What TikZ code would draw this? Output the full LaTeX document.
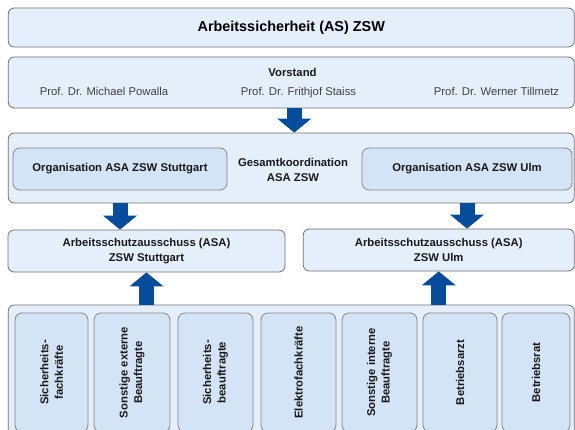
\documentclass[tikz,border=0pt]{standalone}
\usepackage{fontspec}
\setmainfont{Liberation Sans}
\usepackage{xcolor}
\usepackage{tikz}
\usetikzlibrary{arrows.meta, positioning}

\definecolor{boxfill}{RGB}{229,239,252}
\definecolor{innerfill}{RGB}{212,228,247}
\definecolor{boxline}{RGB}{112,112,112}
\definecolor{arrowblue}{RGB}{6,76,156}

\tikzset{
    outerbox/.style={draw=boxline, fill=boxfill, line width=0.8pt, rounded corners=6pt, inner sep=0pt},
    innerbox/.style={draw=boxline!85, fill=innerfill, line width=0.8pt, rounded corners=7pt, inner sep=0pt},
    bigarrow/.style={draw=arrowblue, line width=15pt, -{Triangle[width=34pt, length=14pt, line width=0pt]}},
    boldtext/.style={font=\fontsize{11.3}{14.5}\selectfont\bfseries, text=black!90, align=center},
    nametext/.style={font=\fontsize{11.3}{14}\selectfont, text=black!75, anchor=base}
}

\begin{document}
\begin{tikzpicture}[x=1pt, y=-1pt]
    \useasboundingbox (0,0) rectangle (575,430);
    \clip (0,0) rectangle (575,430);

    % Titel
    \node[outerbox, minimum width=566pt, minimum height=39pt, font=\fontsize{14.4}{17}\selectfont\bfseries] (titel) at (291.25,27.5) {Arbeitssicherheit (AS) ZSW};

    % Vorstand
    \node[outerbox, minimum width=566pt, minimum height=51pt] (vorstand) at (291.25,82.5) {};
    \node[boldtext] (vst) at (292.5,72) {Vorstand};
    \node[nametext] (prof1) at (104,96) {Prof. Dr. Michael Powalla};
    \node[nametext] (prof2) at (298.5,96) {Prof. Dr. Frithjof Staiss};
    \node[nametext] (prof3) at (496.5,96) {Prof. Dr. Werner Tillmetz};

    % Gesamtkoordination
    \node[outerbox, minimum width=566pt, minimum height=70pt] (gesamt) at (291.25,168) {};
    \node[innerbox, boldtext, minimum width=214pt, minimum height=42pt] (orgS) at (120,169) {Organisation ASA ZSW Stuttgart};
    \node[innerbox, boldtext, minimum width=210pt, minimum height=42pt] (orgU) at (467,169) {Organisation ASA ZSW Ulm};
    \node[boldtext] (gk) at (293,170) {Gesamtkoordination\\ASA ZSW};

    % Arbeitsschutzausschuss
    \node[outerbox, boldtext, minimum width=277pt, minimum height=42pt] (asaS) at (146.5,251) {Arbeitsschutzausschuss (ASA)\\ZSW Stuttgart};
    \node[outerbox, boldtext, minimum width=271pt, minimum height=42pt] (asaU) at (438.75,250) {Arbeitsschutzausschuss (ASA)\\ZSW Ulm};

    % Beauftragte
    \node[outerbox, minimum width=566pt, minimum height=135pt] (basis) at (291.25,372.5) {};
    \foreach \cx/\w/\name/\txt in {51.5/73/sifa/{Sicherheits-\\fachkräfte},
                                   132/76/extern/{Sonstige externe\\Beauftragte},
                                   215.5/75/sibe/{Sicherheits-\\beauftragte},
                                   298.5/75/elektro/{Elektrofachkräfte},
                                   379.5/75/intern/{Sonstige interne\\Beauftragte},
                                   460/74/arzt/{Betriebsarzt},
                                   536/68/rat/{Betriebsrat}}
        \node[innerbox, boldtext, rotate=90, minimum width=119pt, minimum height=\w pt] (\name) at (\cx,372.5) {\txt};

    % Pfeile
    \draw[bigarrow] ([xshift=3pt]vorstand.south) -- ([xshift=3pt]gesamt.north);
    \draw[bigarrow] (orgS |- gesamt.south) -- (orgS |- asaS.north);
    \draw[bigarrow] (orgU |- gesamt.south) -- (orgU |- asaU.north);
    \draw[bigarrow] (asaS |- basis.north) -- (asaS.south);
    \draw[bigarrow] (asaU |- basis.north) -- (asaU.south);
\end{tikzpicture}
\end{document}
